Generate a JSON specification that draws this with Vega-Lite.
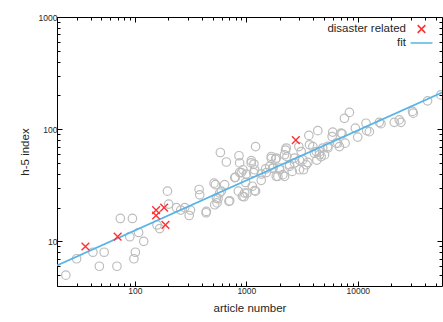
{
  "$schema": "https://vega.github.io/schema/vega-lite/v6.json",
  "width": 385,
  "height": 269,
  "autosize": "none",
  "padding": {"left": 57, "top": 17, "right": 1, "bottom": 36},
  "background": "white",
  "config": {
    "view": {"stroke": "#000", "strokeWidth": 1},
    "axis": {
      "labelFont": "Liberation Sans", "labelFontSize": 8.5, "labelColor": "#262626",
      "titleFont": "Liberation Sans", "titleFontSize": 11.5, "titleFontWeight": "normal", "titleColor": "#262626",
      "domain": false, "grid": false, "tickColor": "#000", "tickWidth": 1,
      "labelOverlap": false, "labelFlush": false
    }
  },
  "datasets": {
    "pts": [
      {"x":24,"y":5},{"x":30,"y":7},{"x":42,"y":8},{"x":48,"y":6},{"x":53,"y":8},{"x":69,"y":6},{"x":74,"y":16},{"x":90,"y":11},{"x":95,"y":16},{"x":98,"y":7},{"x":101,"y":8},{"x":108,"y":12},{"x":120,"y":10},{"x":158,"y":14},{"x":167,"y":13},{"x":196,"y":28},{"x":201,"y":21.5},{"x":236,"y":20},{"x":258,"y":19},{"x":280,"y":20},{"x":307,"y":17},{"x":315,"y":19},{"x":377,"y":29},{"x":382,"y":26},{"x":435,"y":18},{"x":513,"y":33},{"x":528,"y":32},{"x":546,"y":22},{"x":557,"y":24},{"x":585,"y":62},{"x":597,"y":28},{"x":662,"y":51},{"x":709,"y":23},{"x":786,"y":37},{"x":848,"y":28},{"x":859,"y":58},{"x":871,"y":50},{"x":902,"y":41},{"x":953,"y":25},{"x":986,"y":33.5},{"x":1014,"y":27},{"x":1107,"y":50},{"x":1131,"y":31},{"x":1162,"y":41},{"x":1186,"y":43.5},{"x":1211,"y":70},{"x":1211,"y":28},{"x":1361,"y":35},{"x":1510,"y":41},{"x":1674,"y":55},{"x":1731,"y":45},{"x":1829,"y":54},{"x":1855,"y":38},{"x":1987,"y":43.5},{"x":2249,"y":65},{"x":2203,"y":38},{"x":2312,"y":57},{"x":2443,"y":46.6},{"x":2582,"y":42},{"x":2707,"y":50},{"x":2960,"y":70},{"x":3000,"y":53},{"x":3260,"y":43.5},{"x":3565,"y":50.5},{"x":3640,"y":88},{"x":3954,"y":70},{"x":4087,"y":61},{"x":4289,"y":53},{"x":4379,"y":97},{"x":4532,"y":63},{"x":4692,"y":57},{"x":5027,"y":59},{"x":5386,"y":68},{"x":5889,"y":86},{"x":6388,"y":75},{"x":6844,"y":70},{"x":7230,"y":91},{"x":7590,"y":125},{"x":7694,"y":75},{"x":8416,"y":141},{"x":9514,"y":102},{"x":9985,"y":85},{"x":11850,"y":113},{"x":12020,"y":97},{"x":12700,"y":95},{"x":15600,"y":115},{"x":16150,"y":112},{"x":21270,"y":115},{"x":23570,"y":121},{"x":24400,"y":115},{"x":31000,"y":144},{"x":31470,"y":139},{"x":42300,"y":179},{"x":55600,"y":202},
      {"x":871,"y":41.1},{"x":798,"y":37.2},{"x":1000,"y":39.8},{"x":933,"y":43.5},{"x":1361,"y":39.8},{"x":1489,"y":44.2},{"x":1618,"y":46.6},{"x":639,"y":32},{"x":966,"y":27},{"x":921,"y":25.2},{"x":1186,"y":28.3},{"x":538,"y":24.3},{"x":577,"y":27},{"x":698,"y":22.7},{"x":438,"y":18.5},{"x":520,"y":21.2},{"x":1109,"y":52.4},{"x":1170,"y":48.9},
      {"x":5957,"y":94.2},{"x":7079,"y":92.3},{"x":6607,"y":75.1},{"x":5377,"y":70.2},{"x":4855,"y":67.9},{"x":4233,"y":63.2},{"x":4533,"y":59.2},{"x":3690,"y":72.6},{"x":2281,"y":67.9},{"x":2203,"y":59.2},{"x":1857,"y":55.3},{"x":1676,"y":57.1},{"x":2704,"y":55.3},{"x":3105,"y":63.2},{"x":3214,"y":53.5},{"x":2443,"y":48.2},{"x":1987,"y":45.1},{"x":1730,"y":45.1},{"x":2129,"y":39.3},{"x":1918,"y":37.9},{"x":3444,"y":48.2},{"x":3000,"y":43.5}
    ],
    "dis": [
      {"x":36,"y":9,"series":"disaster related"},
      {"x":70,"y":11,"series":"disaster related"},
      {"x":155,"y":19,"series":"disaster related"},
      {"x":155,"y":17,"series":"disaster related"},
      {"x":183,"y":20,"series":"disaster related"},
      {"x":188,"y":14,"series":"disaster related"},
      {"x":2780,"y":80,"series":"disaster related"}
    ],
    "fit": [
      {"x":20,"y":6.1,"series":"fit"},
      {"x":57000,"y":212,"series":"fit"}
    ]
  },
  "resolve": {"axis": {"x": "independent", "y": "independent"}},
  "layer": [
    {
      "data": {"name": "pts"},
      "mark": {"type": "point", "shape": "circle", "filled": false, "color": "#bdbdbd", "size": 72, "strokeWidth": 1.2, "opacity": 1, "clip": true},
      "encoding": {
        "x": {"field": "x", "type": "quantitative",
          "scale": {"type": "log", "domain": [20, 57000], "nice": false},
          "axis": {"orient": "bottom", "title": "article number", "titlePadding": 6,
            "values": [20,30,40,50,60,70,80,90,100,200,300,400,500,600,700,800,900,1000,2000,3000,4000,5000,6000,7000,8000,9000,10000,20000,30000,40000,50000],
            "format": "d",
            "labelExpr": "(datum.value==100||datum.value==1000||datum.value==10000)?datum.label:''",
            "tickSize": {"condition": {"test": "datum.value==100||datum.value==1000||datum.value==10000", "value": -5}, "value": -3},
            "labelPadding": 5}},
        "y": {"field": "y", "type": "quantitative",
          "scale": {"type": "log", "domain": [4, 1000], "nice": false},
          "axis": {"orient": "left", "title": "h-5 index", "titlePadding": 8,
            "values": [5,6,7,8,9,10,20,30,40,50,60,70,80,90,100,200,300,400,500,600,700,800,900,1000],
            "format": "d",
            "labelExpr": "(datum.value==10||datum.value==100||datum.value==1000)?datum.label:''",
            "tickSize": {"condition": {"test": "datum.value==10||datum.value==100||datum.value==1000", "value": -5}, "value": -3},
            "labelPadding": 5}}
      }
    },
    {
      "data": {"name": "fit"},
      "mark": {"type": "line", "strokeWidth": 1.8, "clip": true},
      "encoding": {
        "x": {"field": "x", "type": "quantitative",
          "axis": {"orient": "top", "title": null, "labels": false,
            "values": [20,30,40,50,60,70,80,90,100,200,300,400,500,600,700,800,900,1000,2000,3000,4000,5000,6000,7000,8000,9000,10000,20000,30000,40000,50000],
            "tickSize": {"condition": {"test": "datum.value==100||datum.value==1000||datum.value==10000", "value": -5}, "value": -3}}},
        "y": {"field": "y", "type": "quantitative",
          "axis": {"orient": "right", "title": null, "labels": false,
            "values": [5,6,7,8,9,10,20,30,40,50,60,70,80,90,100,200,300,400,500,600,700,800,900,1000],
            "tickSize": {"condition": {"test": "datum.value==10||datum.value==100||datum.value==1000", "value": -5}, "value": -3}}},
        "color": {"field": "series", "type": "nominal",
          "scale": {"domain": ["disaster related", "fit"], "range": ["#ff3030", "#56b4e9"]},
          "legend": {"title": null, "orient": "none", "legendX": 358, "legendY": 5.5, "padding": 0,
            "labelAlign": "right", "labelOffset": -22, "labelFont": "Liberation Sans", "labelFontSize": 11.5, "labelColor": "#262626",
            "symbolSize": 121, "symbolStrokeWidth": 1.5, "rowPadding": -0.3}}
      }
    },
    {
      "data": {"name": "dis"},
      "mark": {"type": "point", "filled": false, "size": 121, "strokeWidth": 1.4, "opacity": 1, "clip": true},
      "encoding": {
        "x": {"field": "x", "type": "quantitative", "axis": null},
        "y": {"field": "y", "type": "quantitative", "axis": null},
        "color": {"field": "series", "type": "nominal"},
        "shape": {"field": "series", "type": "nominal",
          "scale": {"domain": ["disaster related", "fit"], "range": ["M-0.7,-0.7L0.7,0.7M0.7,-0.7L-0.7,0.7", "M-2,0L2,0"]}}
      }
    }
  ]
}
